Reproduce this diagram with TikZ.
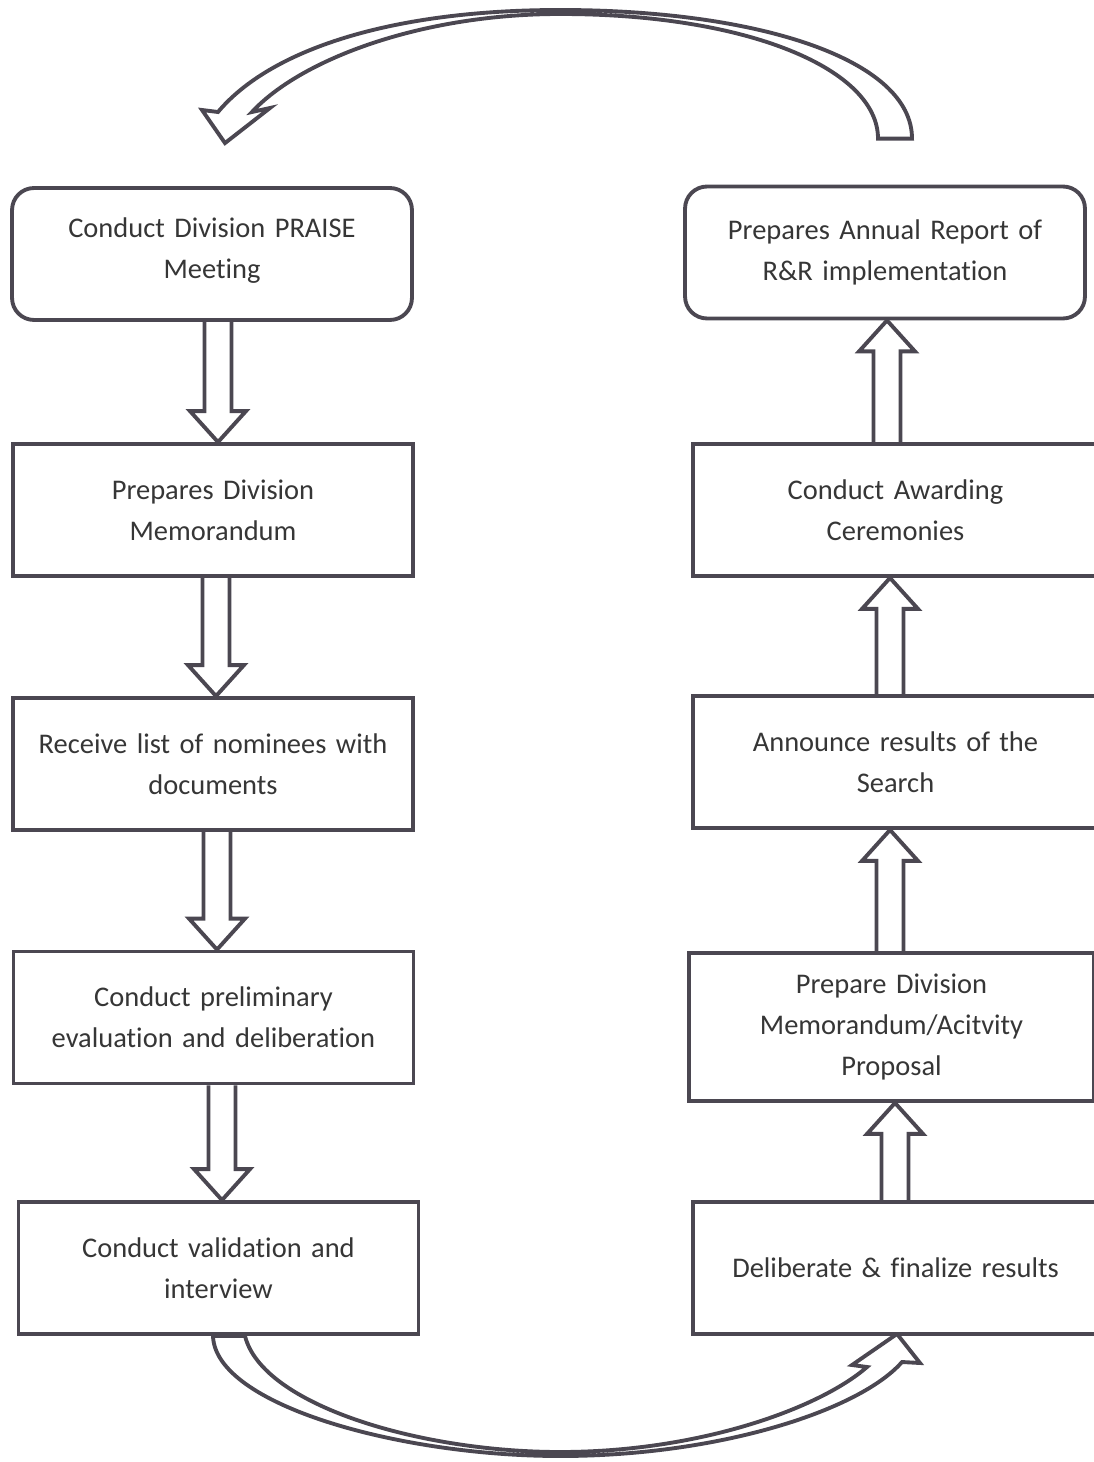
\documentclass[tikz,border=0pt]{standalone}
\usepackage{fontspec}
\setmainfont{Carlito}[Ligatures=NoCommon]
\usetikzlibrary{calc,backgrounds}
\definecolor{edge}{HTML}{4B4751}
\definecolor{ink}{HTML}{363636}
\tikzset{
  stagebox/.style={draw=edge,line width=2.2pt,fill=white,text=ink,align=center,text width=7.6cm,
    minimum width=8cm,minimum height=2.64cm,inner sep=0pt,
    font=\fontsize{16.2}{23.3}\selectfont},
  startbox/.style={stagebox,rounded corners=.44cm},
  cutbox/.style={stagebox,minimum width=8.1cm},
  hollow/.style={draw=edge,line width=2.2pt,fill=white,line join=miter}}
% hollow block arrow between two boxes, #3 = sideways shift in px
\newcommand{\flowdown}[3]{\draw[hollow] let \p1=($(#1.south)+(#3,0)$),\p2=(#2.north) in
  (\x1-7.7pt,\y1)--(\x1-7.7pt,\y2+17.6pt)--(\x1-15.9pt,\y2+17.6pt)--(\x1,\y2)
  --(\x1+15.9pt,\y2+17.6pt)--(\x1+7.7pt,\y2+17.6pt)--(\x1+7.7pt,\y1);}
\newcommand{\flowup}[3]{\draw[hollow] let \p1=($(#1.north)+(#3,0)$),\p2=(#2.south) in
  (\x1-7.7pt,\y1)--(\x1-7.7pt,\y2-17.6pt)--(\x1-15.9pt,\y2-17.6pt)--(\x1,\y2)
  --(\x1+15.9pt,\y2-17.6pt)--(\x1+7.7pt,\y2-17.6pt)--(\x1+7.7pt,\y1);}

\begin{document}
\begin{tikzpicture}[x=.02cm,y=-.02cm]
\useasboundingbox (0,0) rectangle (1093,1462);
% left column, top to bottom
\node[startbox] (praise) at (212,254) {Conduct Division PRAISE\\Meeting\vspace{4pt}};
\node[stagebox] (memo) at (213,510) {Prepares Division\\Memorandum};
\node[stagebox] (nominees) at (213,764) {Receive list of nominees with\\documents};
\node[stagebox] (prelim) at (213.5,1017.5) {Conduct preliminary\\evaluation and deliberation};
\node[stagebox] (validate) at (218.5,1268) {Conduct validation and\\interview};
% right column, bottom to top
\node[cutbox] (finalize) at (895.5,1268) {Deliberate \& finalize results};
\node[cutbox,minimum height=2.96cm] (proposal) at (891.5,1027) {Prepare Division\\Memorandum/Acitvity\\Proposal};
\node[cutbox] (announce) at (895.5,762) {Announce results of the\\Search};
\node[cutbox] (awarding) at (895.5,510) {Conduct Awarding\\Ceremonies};
\node[startbox] (report) at (885,252.5) {Prepares Annual Report of\\R\&R implementation};
\begin{scope}[on background layer]
\flowdown{praise}{memo}{6}
\flowdown{memo}{nominees}{3}
\flowdown{nominees}{prelim}{4}
\flowdown{prelim}{validate}{8.5}
\flowup{finalize}{proposal}{-.5}
\flowup{proposal}{announce}{-1.5}
\flowup{announce}{awarding}{-5.5}
\flowup{awarding}{report}{-8.5}
% curved arrow from validation to finalize
\coordinate (lowtail) at ($(validate.south)+(10.5,0)$);
\coordinate (lowtip) at ($(finalize.south)+(1.5,-2)$);
\draw[hollow] ($(lowtail)+(-16,0)$) .. controls (215,1405) and (400,1456) .. (560,1456)
  .. controls (720,1456) and (860,1410) .. (902,1362) -- (920,1363) -- (lowtip)
  -- (852,1365) -- (867,1367) .. controls (820,1408) and (700,1452) .. (560,1452)
  .. controls (420,1452) and (262,1405) .. ($(lowtail)+(16,0)$) -- cycle;
% curved arrow from report back to praise
\coordinate (hightail) at ($(report.north)+(10,-46)$);
\coordinate (hightip) at ($(praise.north)+(13,-43)$);
\draw[hollow] ($(hightail)+(17,0)$) .. controls (912,60) and (760,10) .. (560,10)
  .. controls (390,10) and (270,50) .. (218,112) -- (202,110) -- (hightip)
  -- (270,108) -- (252,112) .. controls (300,60) and (420,14) .. (560,14)
  .. controls (750,14) and (878,70) .. ($(hightail)+(-17,0)$) -- cycle;
\end{scope}
\end{tikzpicture}
\end{document}
